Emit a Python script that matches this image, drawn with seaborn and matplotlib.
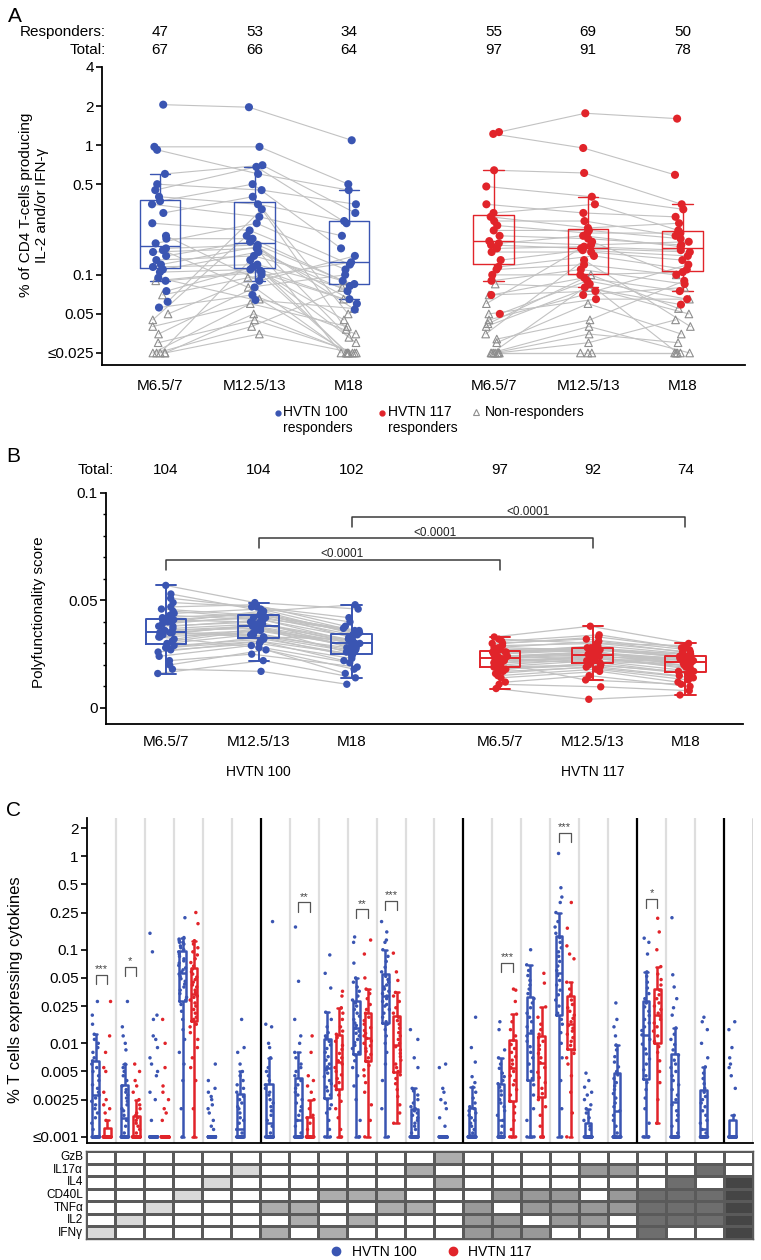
import numpy as np
import pandas as pd
import matplotlib
matplotlib.use("Agg")
import matplotlib.pyplot as plt
import matplotlib.transforms as mtransforms
from matplotlib.lines import Line2D
from matplotlib.colors import ListedColormap
from matplotlib.ticker import NullLocator, MultipleLocator
import seaborn as sns

sns.set_theme(style="white")
plt.rcParams["font.family"] = ["Liberation Sans", "DejaVu Sans"]
for k in ["text.color", "axes.labelcolor", "xtick.color", "ytick.color", "axes.edgecolor"]:
    plt.rcParams[k] = "black"
np.random.seed(11)

BLUE = "#3a55b2"
RED = "#e1242a"
LINE_GRAY = "#c2c2c2"
TRI = "#8e8e8e"

# ------------------------------------------------------------------ data
timepoints = ["M6.5/7", "M12.5/13", "M18"]
studies = ["HVTN 100", "HVTN 117"]

a_responders_100 = [47, 53, 34]
a_total_100 = [67, 66, 64]
a_responders_117 = [55, 69, 50]
a_total_117 = [97, 91, 78]
b_total_100 = [104, 104, 102]
b_total_117 = [97, 92, 74]

# Panel A: % CD4 T cells IL-2 and/or IFN-g, per subject (R = responder, N = non-responder)
a100_m6 = [0.025, 0.025, 0.025, 0.025, 0.025, 0.03, 0.035, 0.04, 0.045, 0.05, 0.07, 0.09,
           0.056, 0.062, 0.075, 0.09, 0.095, 0.105, 0.11, 0.115, 0.12, 0.13, 0.14, 0.15,
           0.155, 0.16, 0.175, 0.19, 0.2, 0.25, 0.3, 0.35, 0.37, 0.4, 0.45, 0.5, 0.6, 0.92, 0.97, 2.05]
a100_m6_flag = "NNNNNNNNNNNN" + "RRRRRRRRRRRRRRRRRRRRRRRRRRRR"
a100_m12 = [0.05, 0.035, 0.13, 0.04, 0.065, 0.045, 0.08, 0.06, 0.2, 0.1, 0.095, 0.108,
            0.07, 0.32, 0.115, 0.105, 0.064, 0.11, 0.15, 0.12, 0.165, 0.14, 0.18, 0.16,
            0.08, 0.17, 0.25, 0.19, 0.09, 0.22, 0.4, 0.28, 0.5, 0.35, 0.68, 0.45, 0.7, 0.6, 0.97, 1.96]
a100_m12_flag = "NNRNNNRNRRN" + "RRRRRRRRRRRRR" + "N" + "RRRRRRRRRRRRRRR"
a100_m18 = [0.025, 0.025, 0.025, 0.082, 0.025, 0.025, 0.025, 0.04, 0.025, 0.025, 0.125, 0.03,
            0.035, 0.038, 0.06, 0.045, 0.055, 0.065, 0.075, 0.08, 0.054, 0.085, 0.09, 0.065,
            0.1, 0.033, 0.12, 0.09, 0.14, 0.11, 0.05, 0.2, 0.16, 0.26, 0.25, 0.35, 0.3, 0.45, 0.5, 1.09]
a100_m18_flag = "NNNRNNNNNNRNNNRNNNRNRRNRRNRRRRN" + "RRRRRRRRR"

a117_m6 = [0.025, 0.025, 0.025, 0.025, 0.025, 0.025, 0.025, 0.03, 0.032, 0.035, 0.04, 0.042,
           0.045, 0.05, 0.06, 0.07, 0.085, 0.05, 0.07, 0.09, 0.1, 0.11, 0.115, 0.13, 0.15,
           0.16, 0.17, 0.175, 0.182, 0.2, 0.22, 0.24, 0.26, 0.28, 0.3, 0.35, 0.48, 0.64, 1.22, 1.26]
a117_m6_flag = "NNNNNNNNNNNNNNNNN" + "RRRRRRRRRRRRRRRRRRRRRRR"
a117_m12 = [0.025, 0.04, 0.025, 0.085, 0.025, 0.03, 0.035, 0.06, 0.045, 0.13, 0.08, 0.1,
            0.07, 0.065, 0.18, 0.075, 0.08, 0.09, 0.095, 0.11, 0.1, 0.12, 0.14, 0.155,
            0.15, 0.165, 0.16, 0.2, 0.17, 0.19, 0.22, 0.21, 0.26, 0.23, 0.35, 0.3, 0.4, 0.61, 0.95, 1.76]
a117_m12_flag = "NNNRNNNNNRNN" + "RRRRRRRRRRRRRRRRRRRRRRRRRRRR"
a117_m18 = [0.025, 0.025, 0.025, 0.025, 0.025, 0.045, 0.03, 0.035, 0.09, 0.04, 0.05, 0.055,
            0.08, 0.065, 0.1, 0.12, 0.059, 0.065, 0.075, 0.085, 0.105, 0.1, 0.11, 0.14,
            0.13, 0.155, 0.15, 0.165, 0.18, 0.17, 0.19, 0.21, 0.2, 0.25, 0.22, 0.28, 0.32, 0.35, 0.59, 1.6]
a117_m18_flag = "NNNNNNNNRNNNNNN" + "RRRRRRRRRRRRRRRRRRRRRRRRR"

# Panel B: polyfunctionality score per subject
b100_m6 = [0.035, 0.042, 0.028, 0.051, 0.020, 0.038, 0.031, 0.045, 0.026, 0.036, 0.057, 0.033, 0.016, 0.040,
           0.029, 0.047, 0.034, 0.022, 0.041, 0.035, 0.039, 0.027, 0.044, 0.032, 0.018, 0.037, 0.043, 0.030,
           0.049, 0.024, 0.036, 0.040, 0.028, 0.053, 0.034, 0.038, 0.035, 0.041, 0.033, 0.046]
b100_m12 = [0.038, 0.044, 0.033, 0.047, 0.027, 0.041, 0.036, 0.042, 0.031, 0.037, 0.049, 0.035, 0.022, 0.045,
            0.032, 0.048, 0.039, 0.025, 0.040, 0.034, 0.043, 0.030, 0.046, 0.037, 0.017, 0.039, 0.041, 0.034,
            0.047, 0.029, 0.038, 0.042, 0.031, 0.045, 0.036, 0.040, 0.033, 0.044, 0.028, 0.043]
b100_m18 = [0.030, 0.033, 0.026, 0.040, 0.018, 0.031, 0.029, 0.036, 0.022, 0.028, 0.046, 0.027, 0.014, 0.034,
            0.025, 0.038, 0.030, 0.019, 0.032, 0.028, 0.035, 0.023, 0.037, 0.026, 0.011, 0.031, 0.033, 0.024,
            0.042, 0.021, 0.029, 0.034, 0.025, 0.048, 0.030, 0.027, 0.032, 0.035, 0.016, 0.036]
b117_m6 = [0.023, 0.027, 0.018, 0.031, 0.012, 0.024, 0.020, 0.029, 0.016, 0.022, 0.033, 0.021, 0.009, 0.026,
           0.019, 0.030, 0.023, 0.014, 0.026, 0.022, 0.025, 0.017, 0.028, 0.021, 0.011, 0.024, 0.027, 0.019,
           0.032, 0.015, 0.023, 0.025, 0.018, 0.030, 0.022, 0.024, 0.023, 0.026, 0.021, 0.028]
b117_m12 = [0.025, 0.028, 0.021, 0.034, 0.015, 0.026, 0.023, 0.030, 0.019, 0.024, 0.038, 0.022, 0.004, 0.029,
            0.020, 0.032, 0.026, 0.017, 0.027, 0.023, 0.028, 0.019, 0.031, 0.024, 0.0098, 0.025, 0.026, 0.022,
            0.030, 0.018, 0.024, 0.027, 0.020, 0.033, 0.023, 0.026, 0.021, 0.028, 0.013, 0.027]
b117_m18 = [0.022, 0.024, 0.016, 0.028, 0.010, 0.023, 0.019, 0.026, 0.014, 0.021, 0.030, 0.020, 0.006, 0.025,
            0.017, 0.027, 0.022, 0.012, 0.024, 0.020, 0.025, 0.015, 0.026, 0.018, 0.008, 0.023, 0.021, 0.017,
            0.029, 0.013, 0.022, 0.024, 0.016, 0.028, 0.021, 0.019, 0.024, 0.023, 0.011, 0.025]
b_pvalues = ["<0.0001", "<0.0001", "<0.0001"]

# Panel C: cytokine combinations (columns) and per-combination values
cyto_rows = ["GzB", "IL17α", "IL4", "CD40L", "TNFα", "IL2", "IFNγ"]
c_combos = [
    ["IFNγ"], ["IL2"], ["TNFα"], ["CD40L"], ["IL4"], ["IL17α"],
    ["IFNγ", "TNFα"], ["IL2", "TNFα"], ["IFNγ", "CD40L"], ["IL2", "CD40L"], ["CD40L", "TNFα"],
    ["IL17α", "TNFα"], ["GzB", "IL4"],
    ["IFNγ", "IL2", "TNFα"], ["IFNγ", "IL2", "CD40L"], ["IFNγ", "CD40L", "TNFα"], ["IL2", "CD40L", "TNFα"],
    ["IL17α", "IL2", "TNFα"], ["IL17α", "CD40L", "TNFα"],
    ["IFNγ", "IL2", "TNFα", "CD40L"], ["IL4", "CD40L", "TNFα", "IL2"], ["IL17α", "CD40L", "TNFα", "IL2"],
    ["IFNγ", "IL2", "TNFα", "CD40L", "IL4"],
]
c_floor_value = 0.001
c100_above = [
    [0.0012, 0.0014, 0.0016, 0.0018, 0.002, 0.0022, 0.0024, 0.0026, 0.0028, 0.003, 0.0033, 0.0036, 0.004, 0.0045,
     0.005, 0.0055, 0.006, 0.0065, 0.007, 0.008, 0.009, 0.01, 0.011, 0.0125, 0.016, 0.02, 0.028],
    [0.0011, 0.0013, 0.0015, 0.0017, 0.0019, 0.002, 0.0022, 0.0024, 0.0026, 0.0028, 0.003, 0.0032, 0.0035, 0.004,
     0.0045, 0.005, 0.0055, 0.006, 0.0085, 0.01, 0.012, 0.015, 0.028],
    [0.0015, 0.0025, 0.003, 0.0045, 0.005, 0.006, 0.007, 0.009, 0.011, 0.012, 0.018, 0.02, 0.095, 0.15],
    [0.002, 0.004, 0.006, 0.008, 0.011, 0.014, 0.018, 0.022, 0.026, 0.029, 0.031, 0.034, 0.037, 0.04, 0.043, 0.046,
     0.049, 0.052, 0.055, 0.058, 0.061, 0.064, 0.068, 0.072, 0.076, 0.08, 0.085, 0.09, 0.095, 0.1, 0.105, 0.11,
     0.115, 0.12, 0.12, 0.125, 0.13, 0.135, 0.22],
    [0.0012, 0.0013, 0.0015, 0.0018, 0.002, 0.0022, 0.0025, 0.0027, 0.003, 0.0033, 0.004, 0.006],
    [0.0011, 0.0012, 0.0014, 0.0015, 0.0016, 0.0018, 0.002, 0.0021, 0.0023, 0.0025, 0.0027, 0.003, 0.0033, 0.0036,
     0.004, 0.0045, 0.005, 0.006, 0.008, 0.009, 0.018],
    [0.0011, 0.0013, 0.0015, 0.0017, 0.0019, 0.0021, 0.0023, 0.0025, 0.0028, 0.003, 0.0033, 0.0036, 0.004, 0.0045,
     0.005, 0.0055, 0.007, 0.009, 0.01, 0.015, 0.016, 0.2],
    [0.0011, 0.0013, 0.0015, 0.0017, 0.0019, 0.0021, 0.0023, 0.0025, 0.0028, 0.003, 0.0033, 0.0036, 0.004, 0.0045,
     0.005, 0.0055, 0.006, 0.007, 0.008, 0.01, 0.012, 0.018, 0.046, 0.175],
    [0.0012, 0.0015, 0.0018, 0.002, 0.0022, 0.0025, 0.0028, 0.0031, 0.0034, 0.0037, 0.004, 0.0044, 0.0048, 0.0052,
     0.0056, 0.006, 0.0066, 0.0072, 0.008, 0.0088, 0.0096, 0.0105, 0.0115, 0.012, 0.013, 0.015, 0.018, 0.0215,
     0.039, 0.056, 0.088],
    [0.0015, 0.0025, 0.0035, 0.0045, 0.0055, 0.0065, 0.0075, 0.008, 0.0088, 0.0095, 0.0102, 0.011, 0.012, 0.0128,
     0.0135, 0.0145, 0.0155, 0.0165, 0.018, 0.0195, 0.021, 0.023, 0.025, 0.027, 0.029, 0.032, 0.036, 0.04, 0.045,
     0.05, 0.072, 0.12, 0.137],
    [0.002, 0.004, 0.006, 0.008, 0.01, 0.012, 0.014, 0.016, 0.017, 0.019, 0.021, 0.023, 0.025, 0.026, 0.028, 0.03,
     0.032, 0.034, 0.036, 0.038, 0.04, 0.042, 0.045, 0.048, 0.052, 0.058, 0.065, 0.075, 0.085, 0.1, 0.12, 0.127,
     0.155, 0.2],
    [0.0011, 0.0012, 0.0013, 0.0014, 0.0015, 0.0016, 0.0017, 0.0018, 0.0019, 0.002, 0.0021, 0.0023, 0.0025, 0.0028,
     0.0031, 0.0033, 0.0055, 0.007, 0.011, 0.014],
    [0.0013, 0.0016, 0.002, 0.0023, 0.0025, 0.003, 0.0033, 0.0055, 0.006],
    [0.0011, 0.0012, 0.0013, 0.0014, 0.0015, 0.0016, 0.0017, 0.0018, 0.0019, 0.002, 0.0021, 0.0023, 0.0026, 0.003,
     0.0034, 0.0038, 0.0044, 0.0063, 0.009, 0.019],
    [0.0011, 0.0013, 0.0015, 0.0017, 0.0019, 0.0021, 0.0023, 0.0025, 0.0028, 0.0031, 0.0034, 0.0037, 0.004, 0.0044,
     0.0048, 0.0054, 0.006, 0.007, 0.0085, 0.014, 0.017],
    [0.0015, 0.002, 0.0028, 0.0036, 0.0042, 0.005, 0.006, 0.007, 0.008, 0.0092, 0.0105, 0.012, 0.0135, 0.015, 0.017,
     0.019, 0.021, 0.024, 0.027, 0.03, 0.034, 0.038, 0.042, 0.047, 0.053, 0.06, 0.069, 0.1],
    [0.002, 0.004, 0.007, 0.01, 0.013, 0.016, 0.018, 0.021, 0.025, 0.029, 0.033, 0.037, 0.042, 0.047, 0.053, 0.06,
     0.067, 0.075, 0.085, 0.095, 0.105, 0.12, 0.135, 0.15, 0.175, 0.2, 0.25, 0.32, 0.366, 0.46, 1.07],
    [0.0012, 0.0013, 0.0015, 0.0016, 0.0018, 0.002, 0.0022, 0.0025, 0.0028, 0.003, 0.0034, 0.004, 0.0048],
    [0.0011, 0.0013, 0.0015, 0.0017, 0.0019, 0.0021, 0.0023, 0.0026, 0.0029, 0.0032, 0.0035, 0.0038, 0.0042, 0.0046,
     0.005, 0.0056, 0.0063, 0.0072, 0.0085, 0.0096, 0.012, 0.015, 0.018, 0.027],
    [0.0014, 0.002, 0.0026, 0.0032, 0.0038, 0.0045, 0.0052, 0.006, 0.0068, 0.0077, 0.0087, 0.0098, 0.011, 0.0123,
     0.0137, 0.015, 0.0165, 0.018, 0.0198, 0.022, 0.0245, 0.027, 0.03, 0.034, 0.039, 0.045, 0.052, 0.058, 0.09,
     0.12, 0.133],
    [0.0011, 0.0013, 0.0015, 0.0017, 0.0019, 0.0022, 0.0025, 0.0028, 0.0032, 0.0036, 0.004, 0.0045, 0.005, 0.0055,
     0.006, 0.0066, 0.0075, 0.0085, 0.0097, 0.011, 0.0125, 0.0146, 0.02, 0.024, 0.03, 0.04, 0.054, 0.22],
    [0.0011, 0.0012, 0.0014, 0.0015, 0.0017, 0.0019, 0.0021, 0.0023, 0.0025, 0.0027, 0.003, 0.0033, 0.0037, 0.0042,
     0.0048, 0.0056, 0.007, 0.01, 0.014, 0.017, 0.019],
    [0.0017, 0.0033, 0.0045, 0.0055, 0.006, 0.007, 0.009, 0.014, 0.017],
]
c100_floor = [10, 17, 45, 1, 40, 18, 18, 19, 3, 2, 1, 22, 40, 20, 16, 4, 1, 30, 15, 4, 16, 18, 25]
c117_above = [
    [0.0015, 0.0018, 0.002, 0.0022, 0.0025, 0.003, 0.005, 0.0055, 0.008, 0.012, 0.028],
    [0.0011, 0.0012, 0.0013, 0.0014, 0.0015, 0.0016, 0.0017, 0.0018, 0.002, 0.0022, 0.0025, 0.003, 0.0035, 0.004,
     0.005, 0.006],
    [0.0015, 0.0018, 0.002, 0.0025, 0.003, 0.0035, 0.0055, 0.01, 0.018],
    [0.002, 0.004, 0.0055, 0.007, 0.009, 0.011, 0.013, 0.015, 0.016, 0.018, 0.019, 0.021, 0.023, 0.025, 0.027,
     0.029, 0.031, 0.032, 0.033, 0.035, 0.037, 0.04, 0.042, 0.045, 0.048, 0.051, 0.055, 0.058, 0.062, 0.067, 0.073,
     0.08, 0.088, 0.095, 0.105, 0.115, 0.125, 0.19, 0.25],
    [], [], [],
    [0.0012, 0.0014, 0.0016, 0.0017, 0.002, 0.0025, 0.003, 0.0035, 0.004, 0.0045, 0.008, 0.012],
    [0.0012, 0.0016, 0.002, 0.0024, 0.0028, 0.0032, 0.0035, 0.0038, 0.0042, 0.0046, 0.005, 0.0055, 0.006, 0.0065,
     0.007, 0.0078, 0.0086, 0.0095, 0.0105, 0.0115, 0.0125, 0.0135, 0.015, 0.018, 0.021, 0.024, 0.032, 0.036],
    [0.0015, 0.0022, 0.003, 0.0038, 0.0045, 0.0052, 0.0058, 0.0064, 0.007, 0.0076, 0.0082, 0.0088, 0.0094, 0.01,
     0.0106, 0.0113, 0.012, 0.0128, 0.0137, 0.0147, 0.016, 0.0175, 0.019, 0.021, 0.023, 0.026, 0.03, 0.034, 0.038,
     0.05, 0.09, 0.127],
    [0.0014, 0.0018, 0.0022, 0.0027, 0.0032, 0.0037, 0.0042, 0.0046, 0.005, 0.0055, 0.006, 0.0066, 0.0072, 0.0078,
     0.0085, 0.0092, 0.01, 0.011, 0.012, 0.013, 0.0145, 0.016, 0.0175, 0.019, 0.021, 0.024, 0.028, 0.032, 0.035,
     0.047, 0.058, 0.092],
    [], [], [],
    [0.0012, 0.0015, 0.0018, 0.0021, 0.0024, 0.0028, 0.0032, 0.0036, 0.004, 0.0045, 0.005, 0.0055, 0.006, 0.0066,
     0.0072, 0.008, 0.0088, 0.0097, 0.0108, 0.012, 0.014, 0.017, 0.0205, 0.028, 0.037, 0.038],
    [0.0013, 0.0017, 0.0021, 0.0025, 0.0029, 0.0033, 0.0038, 0.0043, 0.0049, 0.0055, 0.0062, 0.007, 0.0078, 0.0086,
     0.0095, 0.0105, 0.0115, 0.0125, 0.014, 0.016, 0.019, 0.0245, 0.044, 0.056],
    [0.0018, 0.003, 0.0045, 0.006, 0.007, 0.0078, 0.0085, 0.0095, 0.0105, 0.0115, 0.0125, 0.0135, 0.0145, 0.0155,
     0.017, 0.0185, 0.02, 0.022, 0.024, 0.026, 0.029, 0.033, 0.038, 0.045, 0.08, 0.09, 0.11, 0.17, 0.32],
    [], [],
    [0.0014, 0.0025, 0.0038, 0.005, 0.0065, 0.008, 0.0092, 0.0105, 0.012, 0.0135, 0.015, 0.0165, 0.018, 0.0195,
     0.021, 0.023, 0.025, 0.027, 0.03, 0.033, 0.037, 0.042, 0.048, 0.055, 0.066, 0.1, 0.155, 0.217],
    [], [], [],
]
c117_floor = [32, 22, 40, 1, 0, 0, 0, 24, 2, 1, 0, 0, 0, 0, 3, 3, 1, 0, 0, 0, 0, 0, 0]
c_sig_columns = [1, 2, 8, 10, 11, 15, 17, 20]
c_sig_labels = ["***", "*", "**", "**", "***", "***", "***", "*"]
c_sig_heights = [0.054, 0.065, 0.32, 0.27, 0.33, 0.072, 1.77, 0.35]

# ------------------------------------------------------------------ layout helpers
W, H = 761, 1260
fig = plt.figure(figsize=(W / 100, H / 100), dpi=100)


def fx(px):
    return px / W


def fy(py):
    return 1 - py / H


def style_axis(ax):
    for side in ["top", "right"]:
        ax.spines[side].set_visible(False)
    for side in ["left", "bottom"]:
        ax.spines[side].set_color("black")
        ax.spines[side].set_linewidth(1.3)
    ax.tick_params(axis="y", left=True, length=4, width=1.2, color="black", labelsize=11, pad=2)
    ax.tick_params(axis="x", bottom=False, length=0, labelsize=11)
    ax.set_xlabel("")
    ax.set_ylabel("")


# ------------------------------------------------------------------ panel A
posA = {"HVTN 100": [0, 1, 2], "HVTN 117": [3.53, 4.53, 5.53]}
rows = []
seriesA = {
    "HVTN 100": [(a100_m6, a100_m6_flag), (a100_m12, a100_m12_flag), (a100_m18, a100_m18_flag)],
    "HVTN 117": [(a117_m6, a117_m6_flag), (a117_m12, a117_m12_flag), (a117_m18, a117_m18_flag)],
}
for s in studies:
    for t, (vals, flags) in enumerate(seriesA[s]):
        for sid, (v, f) in enumerate(zip(vals, flags)):
            rows.append(dict(study=s, subject=f"{s}-{sid}", t=t, value=v, resp=(f == "R"),
                             xpos=posA[s][t]))
dfA = pd.DataFrame(rows)
rngA = np.random.default_rng(5)
dfA["xj"] = dfA["xpos"] + rngA.uniform(-0.085, 0.085, len(dfA))

axA = fig.add_axes([fx(102), fy(365), fx(745) - fx(102), (365 - 67) / H])
axA.set_yscale("log", base=2)
for s, col in zip(studies, [BLUE, RED]):
    d = dfA[dfA.study == s]
    sns.lineplot(data=d, x="xj", y="value", units="subject", estimator=None, color=LINE_GRAY,
                 lw=0.8, ax=axA, legend=False, zorder=1)
    r = d[d.resp]
    sns.boxplot(data=r, x="xpos", y="value", native_scale=True, orient="x", width=0.43, fill=False,
                color=col, linecolor=col, linewidth=1.0, whis=(8, 92), showfliers=False, ax=axA, zorder=2)
    nr = d[~d.resp]
    sns.scatterplot(data=nr, x="xj", y="value", marker="^", s=30, color=TRI, ax=axA, legend=False, zorder=3)
    coll = axA.collections[-1]
    coll.set_facecolor("none")
    coll.set_edgecolor(TRI)
    coll.set_linewidth(0.8)
    sns.scatterplot(data=r, x="xj", y="value", s=34, color=col, edgecolor="none", ax=axA, legend=False, zorder=4)

style_axis(axA)
axA.set_xlim(-0.614, 6.19)
axA.set_ylim(0.0202, 4)
axA.set_yticks([0.025, 0.05, 0.1, 0.5, 1, 2, 4])
axA.set_yticklabels(["≤0.025", "0.05", "0.1", "0.5", "1", "2", "4"])
axA.yaxis.set_minor_locator(NullLocator())
axA.set_xticks(posA["HVTN 100"] + posA["HVTN 117"])
axA.set_xticklabels(timepoints * 2)
axA.tick_params(axis="x", pad=10)

trA = mtransforms.blended_transform_factory(axA.transData, fig.transFigure)
fig.text(fx(106), fy(32), "Responders:", ha="right", va="center", fontsize=11)
fig.text(fx(106), fy(50), "Total:", ha="right", va="center", fontsize=11)
for s, resp_n, tot_n in [("HVTN 100", a_responders_100, a_total_100), ("HVTN 117", a_responders_117, a_total_117)]:
    for p, rn, tn in zip(posA[s], resp_n, tot_n):
        axA.text(p, fy(32), str(rn), transform=trA, ha="center", va="center", fontsize=11)
        axA.text(p, fy(50), str(tn), transform=trA, ha="center", va="center", fontsize=11)

fig.text(fx(34), fy(205), "% of CD4 T-cells producing\nIL-2 and/or IFN-γ", rotation=90,
         ha="center", va="center", fontsize=11, multialignment="center", linespacing=1.25)

# legend for A
fig.add_artist(Line2D([fx(278)], [fy(413)], marker="o", ms=3.5, color=BLUE, ls="", transform=fig.transFigure))
fig.text(fx(283), fy(405), "HVTN 100\nresponders", ha="left", va="top", fontsize=10, linespacing=1.2)
fig.add_artist(Line2D([fx(382)], [fy(413)], marker="o", ms=3.5, color=RED, ls="", transform=fig.transFigure))
fig.text(fx(388), fy(405), "HVTN 117\nresponders", ha="left", va="top", fontsize=10, linespacing=1.2)
fig.add_artist(Line2D([fx(476)], [fy(412)], marker="^", ms=4.5, mfc="none", mec=TRI, mew=0.8, ls="",
                      transform=fig.transFigure))
fig.text(fx(485), fy(405), "Non-responders", ha="left", va="top", fontsize=10)

# ------------------------------------------------------------------ panel B
posB = {"HVTN 100": [0, 1, 2], "HVTN 117": [3.6, 4.6, 5.6]}
seriesB = {"HVTN 100": [b100_m6, b100_m12, b100_m18], "HVTN 117": [b117_m6, b117_m12, b117_m18]}
rows = []
for s in studies:
    for t, vals in enumerate(seriesB[s]):
        for sid, v in enumerate(vals):
            rows.append(dict(study=s, subject=f"{s}-{sid}", t=t, value=v, xpos=posB[s][t]))
dfB = pd.DataFrame(rows)
rngB = np.random.default_rng(9)
dfB["xj"] = dfB["xpos"] + rngB.uniform(-0.09, 0.09, len(dfB))

axB = fig.add_axes([fx(106), fy(724), fx(743) - fx(106), (724 - 493) / H])
for s, col in zip(studies, [BLUE, RED]):
    d = dfB[dfB.study == s]
    sns.lineplot(data=d, x="xj", y="value", units="subject", estimator=None, color=LINE_GRAY,
                 lw=0.9, ax=axB, legend=False, zorder=1)
    sns.boxplot(data=d, x="xpos", y="value", native_scale=True, orient="x", width=0.44, fill=False,
                color=col, linecolor=col, linewidth=1.4, showfliers=False, ax=axB, zorder=2)
    sns.scatterplot(data=d, x="xj", y="value", s=28, color=col, edgecolor="none", ax=axB, legend=False, zorder=3)

style_axis(axB)
axB.set_xlim(-0.647, 6.22)
axB.set_ylim(-0.0075, 0.1)
axB.set_yticks([0, 0.05, 0.1])
axB.set_yticklabels(["0", "0.05", "0.1"])
axB.yaxis.set_minor_locator(MultipleLocator(0.01))
axB.tick_params(axis="y", which="minor", left=True, length=2.5, width=1.0, color="black")
axB.set_xticks(posB["HVTN 100"] + posB["HVTN 117"])
axB.set_xticklabels(timepoints * 2)
axB.tick_params(axis="x", pad=8)

b_heights = [0.069, 0.079, 0.0888]
for i, (h, lab) in enumerate(zip(b_heights, b_pvalues)):
    x1, x2 = posB["HVTN 100"][i], posB["HVTN 117"][i]
    axB.plot([x1, x1, x2, x2], [h - 0.0048, h, h, h - 0.0048], color="#3a3a3a", lw=1.1, zorder=4)
    axB.text((x1 + x2) / 2 + 0.1, h + 0.0024, lab, ha="center", va="center", fontsize=8.5, color="#222222")

trB = mtransforms.blended_transform_factory(axB.transData, fig.transFigure)
fig.text(fx(114), fy(470), "Total:", ha="right", va="center", fontsize=11)
for s, tots in [("HVTN 100", b_total_100), ("HVTN 117", b_total_117)]:
    for p, tn in zip(posB[s], tots):
        axB.text(p, fy(470), str(tn), transform=trB, ha="center", va="center", fontsize=11)
axB.text(posB["HVTN 100"][1], fy(772), "HVTN 100", transform=trB, ha="center", va="center", fontsize=10)
axB.text(posB["HVTN 117"][1], fy(772), "HVTN 117", transform=trB, ha="center", va="center", fontsize=10)
fig.text(fx(39), fy(612), "Polyfunctionality score", rotation=90, ha="center", va="center", fontsize=11)

# ------------------------------------------------------------------ panel C
c_labels = ["+".join(c) for c in c_combos]
rows = []
for i, lab in enumerate(c_labels):
    for s, above, floor in [("HVTN 100", c100_above, c100_floor), ("HVTN 117", c117_above, c117_floor)]:
        vals = list(above[i]) + [c_floor_value] * floor[i]
        for v in vals:
            rows.append(dict(combo=lab, study=s, value=v))
dfC = pd.DataFrame(rows)

axC = fig.add_axes([fx(87), fy(1143), fx(753) - fx(87), (1143 - 818) / H])
n_cols = len(c_labels)
group_breaks = [5, 12, 18, 21]
for k in range(n_cols - 1):
    if k in group_breaks:
        axC.axvline(k + 0.5, color="black", lw=1.6, zorder=0)
    else:
        axC.axvline(k + 0.5, color="#dedede", lw=1.6, zorder=0)
axC.axvline(n_cols - 0.5, color="#333333", lw=1.0, zorder=0)

sns.boxplot(data=dfC, x="combo", y="value", hue="study", order=c_labels, hue_order=studies,
            palette=[BLUE, RED], dodge=True, width=0.8, gap=0.42, fill=False, linewidth=1.8,
            showfliers=False, ax=axC, legend=False, zorder=2)
sns.stripplot(data=dfC, x="combo", y="value", hue="study", order=c_labels, hue_order=studies,
              palette=[BLUE, RED], dodge=True, jitter=0.28, size=2.5, linewidth=0, ax=axC,
              legend=False, zorder=3)
axC.set_yscale("log")
style_axis(axC)
axC.set_xlim(-0.5, n_cols - 0.5)
axC.set_ylim(0.00086, 2.56)
axC.set_yticks([0.001, 0.0025, 0.005, 0.01, 0.025, 0.05, 0.1, 0.25, 0.5, 1, 2])
axC.set_yticklabels(["≤0.001", "0.0025", "0.005", "0.01", "0.025", "0.05", "0.1", "0.25", "0.5", "1", "2"])
axC.yaxis.set_minor_locator(NullLocator())
axC.set_xticks([])

for col, lab, h in zip(c_sig_columns, c_sig_labels, c_sig_heights):
    xc = col - 1
    x1, x2 = xc - 0.2, xc + 0.2
    axC.plot([x1, x1, x2, x2], [h * 0.8, h, h, h * 0.8], color="#555555", lw=0.9, zorder=4)
    axC.text(xc, h * 1.02, lab, ha="center", va="bottom", fontsize=8, color="#444444")

fig.text(fx(16), fy(990), "% T cells expressing cytokines", rotation=90, ha="center", va="center", fontsize=12)

# heatmap of cytokine combinations
mat = np.array([[len(c) if r in c else 0 for c in c_combos] for r in cyto_rows])
axH = fig.add_axes([fx(86), fy(1239), fx(753) - fx(86), (1239 - 1151) / H])
shade = ListedColormap(["#ffffff", "#d9d9d9", "#adadad", "#999999", "#6e6e6e", "#454545"])
sns.heatmap(pd.DataFrame(mat, index=cyto_rows), ax=axH, cmap=shade, vmin=-0.5, vmax=5.5, cbar=False,
            linewidths=0.9, linecolor="#5a5a5a", xticklabels=False, yticklabels=True)
axH.tick_params(axis="y", length=0, labelsize=8.5, pad=2, rotation=0)
axH.set_xlabel("")
axH.set_ylabel("")
for sp in axH.spines.values():
    sp.set_visible(True)
    sp.set_color("#5a5a5a")
    sp.set_linewidth(1.0)

handles = [Line2D([], [], marker="o", ls="", color=BLUE, ms=6),
           Line2D([], [], marker="o", ls="", color=RED, ms=6)]
fig.legend(handles, studies, loc="center", bbox_to_anchor=(fx(427), fy(1252)), ncol=2, frameon=False,
           fontsize=10, handletextpad=0.1, columnspacing=1.6, borderaxespad=0)

# panel letters
fig.text(fx(8), fy(16), "A", fontsize=15, va="center", ha="left")
fig.text(fx(6), fy(456), "B", fontsize=15, va="center", ha="left")
fig.text(fx(6), fy(810), "C", fontsize=15, va="center", ha="left")

fig.savefig("out.png", dpi=100)
